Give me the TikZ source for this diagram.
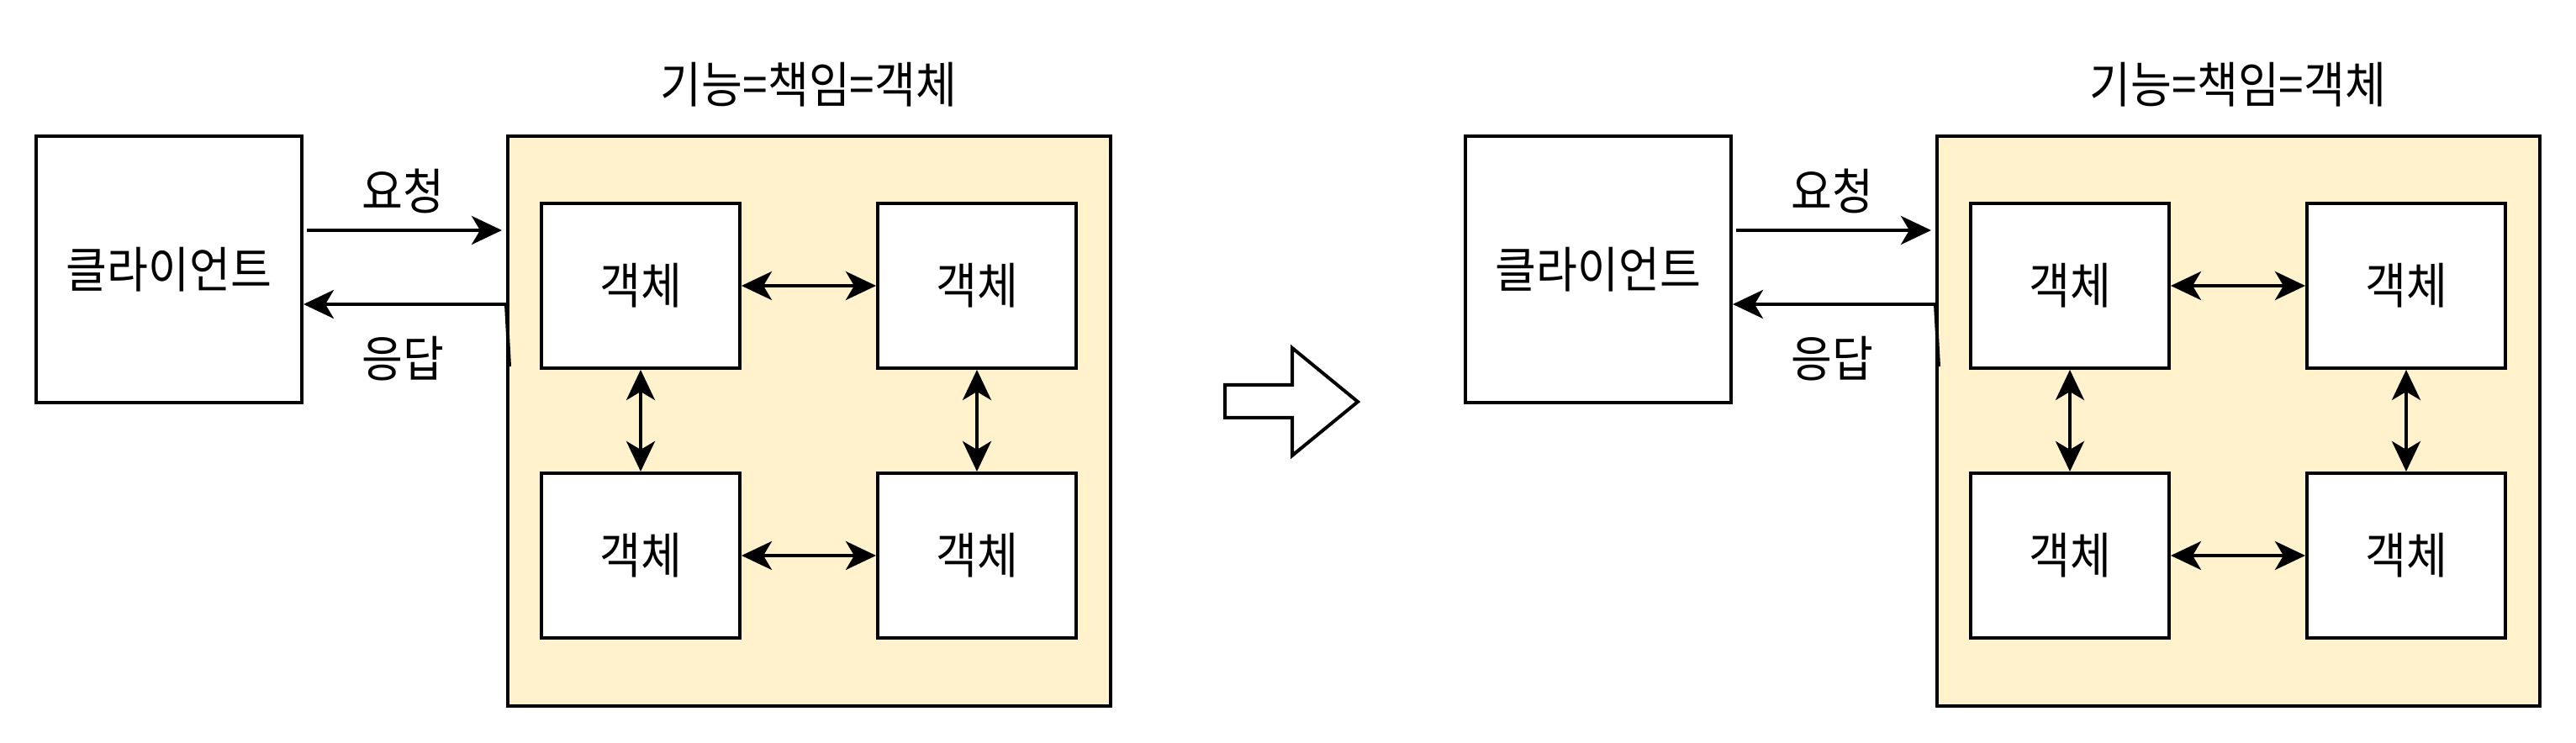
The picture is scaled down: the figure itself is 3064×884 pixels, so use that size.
\documentclass[tikz,border=0pt]{standalone}
\usepackage{fontspec}
\newfontfamily\kr[FakeStretch=0.91]{Noto Sans CJK KR}
\usetikzlibrary{arrows.meta}
\definecolor{cont}{HTML}{FFF2CC}
\tikzset{
  txt/.style={font=\kr\fontsize{14.6}{17}\selectfont},
  box/.style={draw=black, line width=1pt, fill=white, inner sep=0pt, txt},
  lbl/.style={inner sep=0pt, txt},
  tip/.tip={Stealth[length=9pt,width=8.5pt,inset=2.5pt]},
  arr/.style={line width=1pt, -tip},
  darr/.style={line width=1pt, tip-tip},
}
\begin{document}
\begin{tikzpicture}[x=0.25pt,y=-0.25pt]
\useasboundingbox (0,0) rectangle (3064,884);
\foreach \dx/\s in {0/L,1700/R}{
  \node[box, minimum width=79pt, minimum height=79.25pt] (cl\s) at (201+\dx,320.5) {클라이언트};
  \node[box, fill=cont, minimum width=179.25pt, minimum height=169.5pt] (ct\s) at (962.5+\dx,501) {};
  \node[lbl] (ti\s) at (962+\dx,101) {기능=책임=객체};
  \node[box, minimum width=59pt, minimum height=49pt] (oa\s) at (762+\dx,340) {객체};
  \node[box, minimum width=59pt, minimum height=49pt] (ob\s) at (1162+\dx,340) {객체};
  \node[box, minimum width=59pt, minimum height=49pt] (oc\s) at (762+\dx,661) {객체};
  \node[box, minimum width=59pt, minimum height=49pt] (od\s) at (1162+\dx,661) {객체};
  \node[lbl] (rq\s) at (479+\dx,227) {요청};
  \node[lbl] (rs\s) at (479+\dx,427) {응답};
  \draw[arr, shorten <=1pt, shorten >=1.25pt] (cl\s.east |- 0,274) -- (ct\s.west |- 0,274);
  \draw[arr] (ct\s.west |- 0,362) -- (cl\s.east |- 0,362);
  \draw[line width=1pt] (ct\s.west |- 0,362) -- ++(4,74);
  \draw[darr] (oa\s) -- (ob\s);
  \draw[darr] (oc\s) -- (od\s);
  \draw[darr] (oa\s) -- (oc\s);
  \draw[darr] (ob\s) -- (od\s);
}
\draw[line width=1pt, fill=white, line join=miter]
  (1457,458) -- (1537,458) -- (1537,414) -- (1615,478) -- (1537,542) -- (1537,497) -- (1457,497) -- cycle;
\end{tikzpicture}
\end{document}
